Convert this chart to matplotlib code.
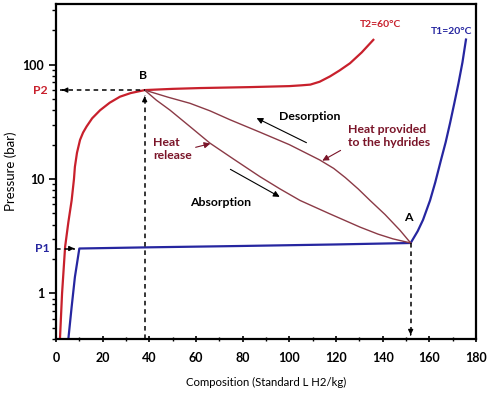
import numpy as np
import matplotlib
matplotlib.use("Agg")
import matplotlib.pyplot as plt
from matplotlib.ticker import FixedLocator, NullFormatter

plt.rcParams['font.family'] = ['Lato', 'DejaVu Sans']
plt.rcParams['font.weight'] = 'bold'

# isotherm T2 = 60 C (red)
red_x = [1.7, 2.6, 3.9, 5.3, 6.7, 7.7, 8.1, 9.0, 10.3, 11.6, 13.1, 15.5, 18.9, 23, 27.4,
         32, 38, 50, 61.7, 83, 100, 105, 109, 113, 117.4, 121.5, 126, 131, 136]
red_y = [0.4, 1.0, 2.55, 4.2, 6.5, 10, 12.8, 17, 22, 25.5, 28.8, 34, 40, 46.5, 52.5,
         56.5, 60, 61.5, 62.5, 63.7, 65, 66, 67, 71, 79, 89, 103, 128, 165]

# isotherm T1 = 20 C (blue)
blue_x = [5.3, 6.7, 8.1, 10, 40, 80, 120, 152, 155, 157.3, 160.3, 162.5, 165, 167,
          168.9, 170.7, 172.5, 174.2, 175.7]
blue_y = [0.4, 0.76, 1.39, 2.47, 2.53, 2.6, 2.68, 2.76, 3.5, 4.4, 6.5, 9.3, 14.7, 21,
          31, 46, 69, 105, 166]

# desorption path B -> A (upper) and absorption path (lower)
up_x = [38, 48, 57.4, 66, 74.6, 87.4, 100, 113, 119, 124, 129.5, 134.6, 141, 147.4, 152]
up_y = [60, 52, 46, 39.5, 33, 25.7, 20, 14.7, 12.4, 10.3, 8.2, 6.5, 4.9, 3.57, 2.76]
lo_x = [38, 43, 48.9, 57.4, 66, 76, 87.4, 96, 104.6, 117, 130.3, 138, 144.4, 152]
lo_y = [60, 49, 40, 28.8, 20.6, 15, 10.5, 8.2, 6.5, 5.0, 3.8, 3.3, 3.0, 2.76]

xticks = [0, 20, 40, 60, 80, 100, 120, 140, 160, 180]
yticks = [1, 10, 100]
yticklabels = ['1', '10', '100']

B = (38, 60)
A = (152, 2.76)
P1 = 2.47
P2 = 60

red = '#c8202c'
blue = '#2626a0'
brown = '#8b3a46'
darkred = '#7a1428'

fig = plt.figure(figsize=(5, 3.95), dpi=100)
ax = fig.add_axes([0.112, 0.142, 0.84, 0.848])
ax.set_yscale('log')
ax.set_xlim(0, 180)
ax.set_ylim(0.4, 340)

ax.plot(red_x, red_y, color=red, lw=1.6)
ax.plot(blue_x, blue_y, color=blue, lw=1.6)
ax.plot(up_x, up_y, color=brown, lw=1.0)
ax.plot(lo_x, lo_y, color=brown, lw=1.0)

# dashed guide lines
dash = dict(color='k', lw=1.1, ls=(0, (3, 2.5)))
ax.plot([1.5, B[0]], [P2, P2], **dash)
ax.plot([B[0], B[0]], [0.4, 54], **dash)
ax.plot([0, 8], [P1, P1], **dash)
ax.plot([A[0], A[0]], [A[1], 0.43], **dash)

hd = dict(arrowstyle='-|>', color='k', lw=1, mutation_scale=7)
ax.annotate('', xy=(1.5, P2), xytext=(4, P2), arrowprops=hd)
ax.annotate('', xy=(B[0], 53), xytext=(B[0], 48), arrowprops=hd)
ax.annotate('', xy=(9, P1), xytext=(6, P1), arrowprops=hd)
ax.annotate('', xy=(A[0], 0.41), xytext=(A[0], 0.46), arrowprops=hd)

# process arrows
ar = dict(arrowstyle='-|>', color='k', lw=0.8, mutation_scale=9)
ax.annotate('', xy=(84.9, 35), xytext=(108.4, 20.3), arrowprops=ar)
ax.annotate('', xy=(96.9, 6.8), xytext=(73.7, 12.5), arrowprops=ar)
arr = dict(arrowstyle='-|>', color=darkred, lw=0.8, mutation_scale=9)
ax.annotate('', xy=(67.3, 20.7), xytext=(58.7, 18.7), arrowprops=arr)
ax.annotate('', xy=(113.1, 14.1), xytext=(123, 18.3), arrowprops=arr)

# labels
fs = 8.8
ax.text(37.3, 80, 'B', ha='center', va='center', fontsize=fs)
ax.text(150.9, 4.6, 'A', ha='center', va='center', fontsize=fs)
ax.text(41.6, 18.3, 'Heat\nrelease', ha='left', va='center', fontsize=fs,
        color=darkred, linespacing=1.3)
ax.text(108.9, 35, 'Desorption', ha='center', va='center', fontsize=fs)
ax.text(125, 23.8, 'Heat provided\nto the hydrides', ha='left', va='center',
        fontsize=fs, color=darkred, linespacing=1.3)
ax.text(70.7, 6.3, 'Absorption', ha='center', va='center', fontsize=fs)
ax.text(138.9, 224, 'T2=60°C', ha='center', va='center', fontsize=7.5, color=red)
ax.text(169.6, 195, 'T1=20°C', ha='center', va='center', fontsize=7.5, color=blue)
ax.text(-3.4, P2, 'P2', ha='right', va='center', fontsize=fs, color=red, clip_on=False)
ax.text(-2.6, P1, 'P1', ha='right', va='center', fontsize=fs, color=blue, clip_on=False)

ax.set_xticks(xticks)
ax.set_xticks([10, 30, 50, 70, 90, 110, 130, 150, 170], minor=True)
ax.yaxis.set_major_locator(FixedLocator(yticks))
ax.set_yticklabels(yticklabels)
ax.yaxis.set_minor_locator(FixedLocator(
    [m * d for d in (0.1, 1, 10, 100) for m in range(2, 10) if 0.4 <= m * d <= 340]))
ax.yaxis.set_minor_formatter(NullFormatter())
ax.tick_params(axis='both', which='major', labelsize=9, width=1.2, length=5)
ax.tick_params(axis='x', which='major', pad=7)
ax.tick_params(axis='x', which='both', direction='inout')
ax.tick_params(axis='both', which='minor', width=1, length=3)

for s in ax.spines.values():
    s.set_linewidth(1.6)

ax.set_xlabel('Composition (Standard L H2/kg)', fontsize=8.2, labelpad=9)
ax.set_ylabel('Pressure (bar)', fontsize=9.5, labelpad=4)

fig.savefig('out.png', dpi=100)
